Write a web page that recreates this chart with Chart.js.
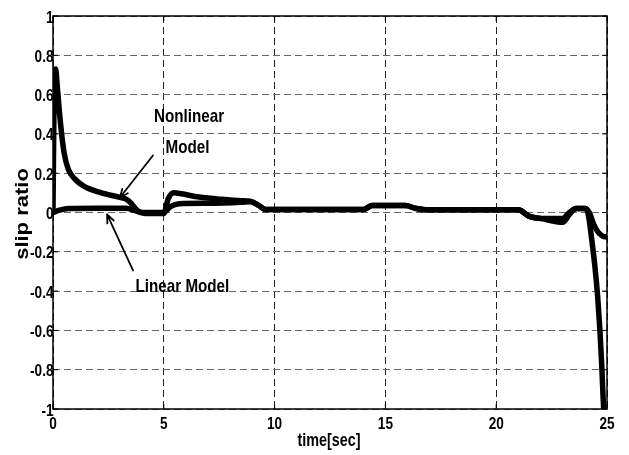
<!DOCTYPE html>
<html>
<head>
<meta charset="utf-8">
<script src="https://cdn.jsdelivr.net/npm/chart.js@4.4.1/dist/chart.umd.min.js"></script>
<style>
  html, body { margin: 0; padding: 0; background: #fff; }
  #wrap { width: 629px; height: 455px; }
</style>
</head>
<body>
<div id="wrap"><canvas id="slipChart" width="629" height="455"></canvas></div>
<script>
// time axis [sec] and slip ratio samples for both models
const nonlinearTime = [0, 0.05, 0.12, 0.19, 0.32, 0.5, 0.69, 0.99, 1.37, 2.12, 3.02, 3.3, 3.5, 3.8, 4.15, 5.0,
  5.2, 5.45, 5.8, 6.5, 7.5, 8.5, 8.9, 9.3, 9.6, 12, 14.0, 14.4, 15.9, 16.4, 16.8, 21.0,
  21.5, 22.0, 23.0, 23.3, 23.6, 24.0, 24.1, 24.2, 24.27, 24.45, 24.58, 24.68, 24.76, 24.82, 24.85];
const nonlinearSlip = [0.0, 0.6, 0.73, 0.645, 0.475, 0.305, 0.22, 0.17, 0.136, 0.102, 0.077, 0.068, 0.05, 0.01, -0.005, -0.005,
  0.07, 0.1, 0.095, 0.08, 0.068, 0.06, 0.058, 0.035, 0.015, 0.015, 0.015, 0.035, 0.035, 0.02, 0.014, 0.014,
  -0.02, -0.03, -0.05, -0.01, 0.02, 0.02, 0.012, -0.04, -0.1, -0.27, -0.43, -0.6, -0.77, -0.93, -1.0];

const linearTime = [0, 0.3, 0.7, 2.0, 3.3, 3.7, 4.0, 5.0, 5.3, 5.7, 7.0, 8.5, 8.9, 9.3, 9.6, 14.0, 14.4,
  15.9, 16.4, 16.8, 21.0, 21.5, 22.0, 23.0, 23.3, 23.6, 24.0, 24.2, 24.4, 24.6, 24.8, 25.0];
const linearSlip = [0.0, 0.012, 0.02, 0.022, 0.022, 0.01, 0.0, 0.0, 0.03, 0.045, 0.047, 0.052, 0.055, 0.035, 0.015, 0.015, 0.035,
  0.035, 0.02, 0.014, 0.014, -0.02, -0.03, -0.03, 0.0, 0.02, 0.02, 0.0, -0.06, -0.1, -0.12, -0.125];

const xTicks = [0, 5, 10, 15, 20, 25];
const yTicks = [-1, -0.8, -0.6, -0.4, -0.2, 0, 0.2, 0.4, 0.6, 0.8, 1];

// annotation text and arrows, placed in data units
const notes = [
  { text: 'Nonlinear', t: 6.14, v: 0.463 },
  { text: 'Model', t: 6.07, v: 0.305 },
  { text: 'Linear Model', t: 5.84, v: -0.407 }
];
const arrows = [
  { from: [4.51, 0.29], to: [3.02, 0.076] },
  { from: [3.61, -0.295], to: [2.44, -0.01] }
];

const FONT = '"Liberation Sans", Arial, sans-serif';
const SQUEEZE = 0.8;

function toPoints(ts, vs) {
  return ts.map((t, i) => ({ x: t, y: vs[i] }));
}

function squeezedText(ctx, text, x, y, size, align) {
  ctx.save();
  ctx.translate(x, y);
  ctx.scale(SQUEEZE, 1);
  ctx.font = 'bold ' + size + 'px ' + FONT;
  ctx.textAlign = align;
  ctx.textBaseline = 'alphabetic';
  ctx.fillStyle = '#000';
  ctx.fillText(text, 0, 0);
  ctx.restore();
}

function fmt(v) {
  return String(parseFloat(v.toFixed(1)));
}

// frame, inward ticks, tick labels, axis titles and arrows
const decorations = {
  id: 'decorations',
  afterDraw(chart) {
    const { ctx, chartArea: a, scales: { x, y } } = chart;
    ctx.save();
    ctx.strokeStyle = '#000';
    ctx.lineWidth = 1.5;
    ctx.strokeRect(a.left, a.top, a.right - a.left, a.bottom - a.top);

    ctx.lineWidth = 1;
    ctx.beginPath();
    xTicks.forEach(t => {
      const px = x.getPixelForValue(t);
      ctx.moveTo(px, a.bottom); ctx.lineTo(px, a.bottom - 5);
      ctx.moveTo(px, a.top); ctx.lineTo(px, a.top + 5);
    });
    yTicks.forEach(v => {
      const py = y.getPixelForValue(v);
      ctx.moveTo(a.left, py); ctx.lineTo(a.left + 5, py);
      ctx.moveTo(a.right, py); ctx.lineTo(a.right - 5, py);
    });
    ctx.stroke();

    xTicks.forEach(t => {
      squeezedText(ctx, String(t), x.getPixelForValue(t), a.bottom + 20, 17, 'center');
    });
    yTicks.forEach(v => {
      squeezedText(ctx, fmt(v), a.left + 0.5, y.getPixelForValue(v) + 6.5, 17, 'right');
    });

    squeezedText(ctx, 'time[sec]', (a.left + a.right) / 2 - 1, a.bottom + 37, 18, 'center');

    // rotated y title, squeezed across the baseline
    ctx.save();
    ctx.translate(28, 214);
    ctx.scale(SQUEEZE, 1);
    ctx.rotate(-Math.PI / 2);
    ctx.font = 'bold 22px ' + FONT;
    ctx.textAlign = 'center';
    ctx.textBaseline = 'alphabetic';
    ctx.fillStyle = '#000';
    ctx.fillText('slip ratio', 0, 0);
    ctx.restore();

    notes.forEach(n => {
      squeezedText(ctx, n.text, x.getPixelForValue(n.t), y.getPixelForValue(n.v), 19, 'center');
    });

    ctx.lineWidth = 1.8;
    ctx.lineCap = 'round';
    arrows.forEach(ar => {
      const x0 = x.getPixelForValue(ar.from[0]), y0 = y.getPixelForValue(ar.from[1]);
      const x1 = x.getPixelForValue(ar.to[0]), y1 = y.getPixelForValue(ar.to[1]);
      const ang = Math.atan2(y1 - y0, x1 - x0);
      const head = 9;
      ctx.beginPath();
      ctx.moveTo(x0, y0);
      ctx.lineTo(x1, y1);
      ctx.moveTo(x1, y1);
      ctx.lineTo(x1 - head * Math.cos(ang - 0.4), y1 - head * Math.sin(ang - 0.4));
      ctx.moveTo(x1, y1);
      ctx.lineTo(x1 - head * Math.cos(ang + 0.4), y1 - head * Math.sin(ang + 0.4));
      ctx.stroke();
    });
    ctx.restore();
  }
};

const lineStyle = {
  borderColor: '#000',
  borderWidth: 5.5,
  pointRadius: 0,
  fill: false,
  cubicInterpolationMode: 'monotone',
  borderJoinStyle: 'round',
  borderCapStyle: 'round'
};

new Chart(document.getElementById('slipChart'), {
  type: 'line',
  data: {
    datasets: [
      { label: 'Nonlinear Model', data: toPoints(nonlinearTime, nonlinearSlip), ...lineStyle },
      { label: 'Linear Model', data: toPoints(linearTime, linearSlip), ...lineStyle }
    ]
  },
  options: {
    responsive: false,
    animation: false,
    layout: { padding: { top: 16, right: 22, left: 0, bottom: 0 } },
    plugins: { legend: { display: false }, tooltip: { enabled: false } },
    scales: {
      x: {
        type: 'linear',
        min: 0, max: 25,
        ticks: { display: false, stepSize: 5 },
        grid: { color: '#222', lineWidth: 1, drawTicks: false },
        border: { display: false, dash: [7, 4] },
        afterFit: s => { s.height = 46; }
      },
      y: {
        type: 'linear',
        min: -1, max: 1,
        ticks: { display: false, stepSize: 0.2 },
        grid: { color: '#666', lineWidth: 1, drawTicks: false },
        border: { display: false, dash: [7, 4] },
        afterFit: s => { s.width = 53; }
      }
    }
  },
  plugins: [decorations]
});
</script>
</body>
</html>
